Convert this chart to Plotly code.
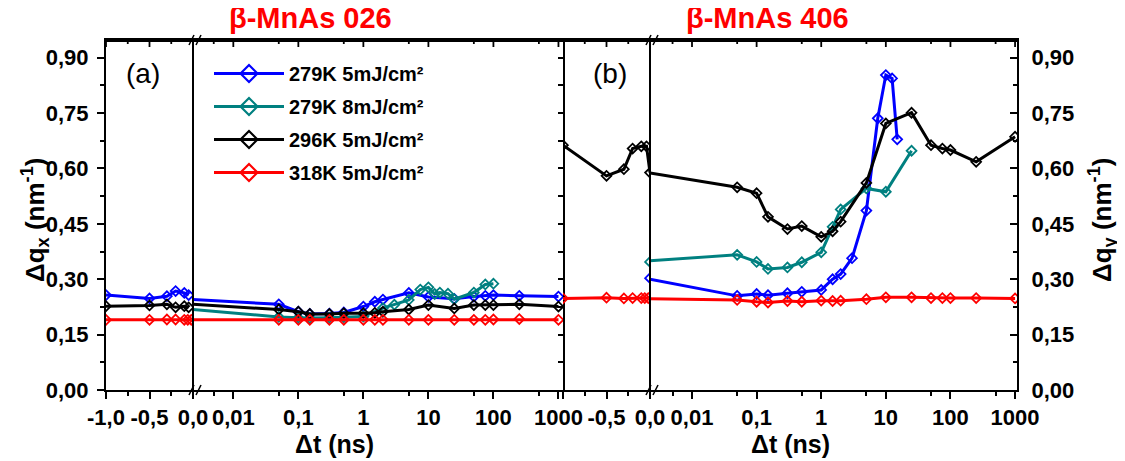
import plotly.graph_objects as go

# ---------------- data ----------------
series_names = ["279K 5mJ/cm²", "279K 8mJ/cm²", "296K 5mJ/cm²", "318K 5mJ/cm²"]
series_colors = ["#0000FF", "#008080", "#000000", "#FF0000"]

# panel (a)  beta-MnAs 026, linear negative-delay segment
a_t_neg = [-1.0, -0.5, -0.3, -0.2, -0.1, -0.05]
a_t_neg_red = [-1.0, -0.5, -0.3, -0.2, -0.1, -0.06, -0.02]
a_blue_neg = [0.257, 0.248, 0.254, 0.268, 0.263, 0.257]
a_black_neg = [0.227, 0.229, 0.232, 0.224, 0.227, 0.224]
a_red_neg = [0.190, 0.190, 0.191, 0.191, 0.190, 0.190, 0.190]

# panel (a) value at the axis break (line start of log segment)
a_break = {"blue": 0.245, "teal": 0.218, "black": 0.232, "red": 0.190}

# panel (a) log positive-delay segment
a_t_pos = [0.05, 0.1, 0.15, 0.3, 0.5, 1, 1.5, 2, 5, 10, 25, 50, 75, 100, 250, 1000]
a_blue_pos = [0.232, 0.212, 0.206, 0.207, 0.210, 0.226, 0.239, 0.245, 0.263, 0.252, 0.247, 0.253, 0.255, 0.257, 0.255, 0.253]
a_black_pos = [0.218, 0.212, 0.206, 0.206, 0.208, 0.208, 0.209, 0.212, 0.218, 0.230, 0.221, 0.230, 0.230, 0.230, 0.232, 0.226]
a_red_pos = [0.190, 0.190, 0.190, 0.190, 0.190, 0.190, 0.190, 0.190, 0.190, 0.190, 0.190, 0.190, 0.190, 0.191, 0.192, 0.190]
a_t_teal = [0.05, 0.1, 0.15, 0.3, 0.5, 1, 2, 3, 5, 7.5, 10, 12.5, 15, 20, 25, 50, 75, 100]
a_teal_pos = [0.198, 0.196, 0.195, 0.196, 0.197, 0.199, 0.222, 0.231, 0.244, 0.272, 0.278, 0.260, 0.264, 0.261, 0.246, 0.264, 0.286, 0.288]

# panel (b)  beta-MnAs 406, linear negative-delay segment
b_t_neg_black = [-1.0, -0.5, -0.3, -0.2, -0.1, -0.04, 0.0]
b_black_neg = [0.663, 0.580, 0.598, 0.654, 0.660, 0.660, 0.589]
b_t_neg_red = [-1.0, -0.5, -0.3, -0.2, -0.1, -0.06, -0.02]
b_red_neg = [0.248, 0.250, 0.248, 0.249, 0.249, 0.249, 0.249]
b_t_zero = [0.0]
b_blue_zero = [0.303]
b_teal_zero = [0.347]

b_break = {"blue": 0.300, "teal": 0.350, "black": 0.588, "red": 0.247}

# panel (b) log positive-delay segment
b_t_pos = [0.05, 0.1, 0.15, 0.3, 0.5, 1, 1.5, 2, 5, 10, 25, 50, 75, 100, 250, 1000]
b_black_pos = [0.549, 0.533, 0.469, 0.436, 0.444, 0.415, 0.430, 0.456, 0.561, 0.722, 0.751, 0.663, 0.654, 0.650, 0.618, 0.686]
b_red_pos = [0.244, 0.239, 0.237, 0.241, 0.239, 0.242, 0.241, 0.242, 0.246, 0.251, 0.251, 0.249, 0.249, 0.249, 0.249, 0.248]
b_t_teal = [0.05, 0.1, 0.15, 0.3, 0.5, 1, 1.5, 2, 5, 10, 25]
b_teal_pos = [0.366, 0.347, 0.328, 0.332, 0.346, 0.373, 0.442, 0.489, 0.546, 0.537, 0.648]
b_t_blue = [0.05, 0.1, 0.15, 0.3, 0.5, 1, 1.5, 2, 3, 5, 7.5, 10, 12.5, 15]
b_blue_pos = [0.255, 0.260, 0.257, 0.262, 0.266, 0.271, 0.300, 0.314, 0.357, 0.486, 0.736, 0.853, 0.844, 0.679]

# axis ticks
y_ticks = [0.0, 0.15, 0.30, 0.45, 0.60, 0.75, 0.90]
lin_ticks = [-1.0, -0.5, 0.0]
lin_ticktext_a = ["-1,0", "-0,5", "0,0"]
lin_ticktext_b = ["", "-0,5", "0,0"]
lin_minor = [-0.75, -0.25]
log_ticks = [0.01, 0.1, 1, 10, 100, 1000]
log_ticktext = ["0,01", "0,1", "1", "10", "100", "1000"]
log_minor = [0.005, 0.05, 0.5, 5, 50, 500]

# ---------------- geometry ----------------
# the page body adds an 8 px offset, so the figure is 8 px smaller
FONT = "Liberation Sans"
OFF = 8
W, H = 1125 - OFF, 461 - OFF
ML, MR, MT, MB = 106 - OFF, 108, 40 - OFF, 71
PW = W - ML - MR
PH = H - MT - MB
def fx(px):  # reference-image px -> paper
    return (px - OFF - ML) / PW
def fy(py):
    return (H - MB - (py - OFF)) / PH

d_a_lin = [0, fx(193)]
d_a_log = [fx(193), fx(563)]
d_b_lin = [fx(563), fx(650)]
d_b_log = [fx(650), 1]
r_a_log = [-2.62, 3.07]
r_b_log = [-2.65, 3.03]
y_range = [0, 0.948]

MS = 7.5
LW = 3

fig = go.Figure()

def add(x, y, color, xa, first_hidden=False):
    op = [1.0] * len(x)
    if first_hidden:
        op[0] = 0.0
    fig.add_trace(go.Scatter(
        x=x, y=y, xaxis=xa, yaxis="y", mode="lines+markers",
        line=dict(color=color, width=LW),
        marker=dict(symbol="diamond-open", size=MS, color=color, opacity=op,
                    line=dict(color=color, width=1.8)),
        showlegend=False, hoverinfo="skip"))

BL, TE, BK, RD = series_colors
xa_start = 10 ** r_a_log[0]
xb_start = 10 ** r_b_log[0]

# empty traces so that the secondary frame axes get drawn
for xa, ya in [("x4", "y2"), ("x2", "y3")]:
    fig.add_trace(go.Scatter(x=[None], y=[None], xaxis=xa, yaxis=ya, mode="markers",
                             showlegend=False, hoverinfo="skip"))

# panel (a)
add(a_t_neg, a_blue_neg, BL, "x")
add([xa_start] + a_t_pos, [a_break["blue"]] + a_blue_pos, BL, "x2", True)
add([xa_start] + a_t_teal, [a_break["teal"]] + a_teal_pos, TE, "x2", True)
add(a_t_neg, a_black_neg, BK, "x")
add([xa_start] + a_t_pos, [a_break["black"]] + a_black_pos, BK, "x2", True)
add(a_t_neg_red, a_red_neg, RD, "x")
add([xa_start] + a_t_pos, [a_break["red"]] + a_red_pos, RD, "x2", True)

# panel (b)
add(b_t_zero, b_blue_zero, BL, "x3")
add([xb_start] + b_t_blue, [b_break["blue"]] + b_blue_pos, BL, "x4", True)
add(b_t_zero, b_teal_zero, TE, "x3")
add([xb_start] + b_t_teal, [b_break["teal"]] + b_teal_pos, TE, "x4", True)
add(b_t_neg_black, b_black_neg, BK, "x3")
add([xb_start] + b_t_pos, [b_break["black"]] + b_black_pos, BK, "x4", True)
add(b_t_neg_red, b_red_neg, RD, "x3")
add([xb_start] + b_t_pos, [b_break["red"]] + b_red_pos, RD, "x4", True)

# legend entries
for name, c in zip(series_names, series_colors):
    fig.add_trace(go.Scatter(
        x=[None], y=[None], xaxis="x", yaxis="y", mode="lines+markers", name=name,
        legendgroup=name,
        line=dict(color=c, width=LW),
        marker=dict(symbol="diamond-open", size=13, color=c, line=dict(color=c, width=2.2))))

tickfont = dict(family=FONT, size=22, color="black", weight="bold")
common = dict(showline=True, linecolor="black", linewidth=2, showgrid=False, zeroline=False,
              tickfont=tickfont, tickcolor="black", tickwidth=1.8)

def xaxis_def(domain, rng, vals, text, minor_vals, log=False):
    d = dict(common, domain=domain, range=rng, tickmode="array", tickvals=vals,
             ticktext=text, ticklabelstandoff=0, side="bottom", ticks="outside",
             anchor="y", ticklen=7, mirror=True,
             minor=dict(tickvals=minor_vals, ticks="outside", ticklen=4,
                        tickcolor="black", tickwidth=1.5))
    if log:
        d["type"] = "log"
    return d

ycommon = dict(common, range=y_range, tickmode="array", tickvals=y_ticks, tickformat=".2f")

fig.update_layout(
    width=W, height=H,
    margin=dict(l=ML, r=MR, t=MT, b=MB, pad=0),
    paper_bgcolor="white", plot_bgcolor="rgba(0,0,0,0)",
    separators=",.",
    font=dict(family=FONT, color="black"),
    xaxis=xaxis_def(d_a_lin, [-1.0, 0.0], lin_ticks, lin_ticktext_a, lin_minor),
    xaxis2=xaxis_def(d_a_log, r_a_log, log_ticks, log_ticktext, log_minor, log=True),
    xaxis3=xaxis_def(d_b_lin, [-1.0, 0.0], lin_ticks, lin_ticktext_b, lin_minor),
    xaxis4=xaxis_def(d_b_log, r_b_log, log_ticks, log_ticktext, log_minor, log=True),
    yaxis=dict(ycommon, domain=[0, 1], anchor="x", side="left", ticks="outside", ticklen=7,
               ticklabelstandoff=4,
               minor=dict(dtick=0.075, ticks="outside", ticklen=4, tickcolor="black", tickwidth=1.5)),
    yaxis2=dict(ycommon, overlaying="y", anchor="x4", side="right", ticks="inside", ticklen=7,
                ticklabelstandoff=8,
                minor=dict(dtick=0.075, ticks="inside", ticklen=4, tickcolor="black", tickwidth=1.5)),
    yaxis3=dict(ycommon, overlaying="y", anchor="x2", side="right", ticks="inside", ticklen=5,
                tickvals=None, tickmode="linear", tick0=0, dtick=0.075, showticklabels=False),
    legend=dict(x=fx(209), y=fy(54), xanchor="left", yanchor="top", xref="paper", yref="paper",
                bgcolor="rgba(0,0,0,0)", font=dict(family=FONT, size=20, color="black", weight="bold"),
                itemwidth=70, tracegroupgap=4),
    showlegend=True,
)

shapes = []
# top frame bar (thin filled strip along the top edge of the plot)
shapes.append(dict(type="rect", xref="paper", x0=0, x1=1, yref="paper", ysizemode="pixel",
                   yanchor=1, y0=-2, y1=0.5, fillcolor="black", line=dict(width=0),
                   layer="above"))
# inward top ticks, placed through each x axis' own scale
for xr, major, minor in [("x", lin_ticks, lin_minor), ("x2", log_ticks, log_minor),
                         ("x3", lin_ticks, lin_minor), ("x4", log_ticks, log_minor)]:
    for vals, ln in [(major, 7), (minor, 4)]:
        for v in vals:
            shapes.append(dict(type="line", xref=xr, x0=v, x1=v, yref="y domain",
                               ysizemode="pixel", yanchor=1, y0=0, y1=-ln,
                               line=dict(color="black", width=1.8)))
# axis-break lines and "//" marks
for xr in ["x2 domain", "x4 domain"]:
    shapes.append(dict(type="line", xref=xr, x0=0, x1=0, yref="y domain", y0=0, y1=1,
                       line=dict(color="black", width=2)))
    for yv in [0, 1]:
        for off in [-4, 3]:
            shapes.append(dict(type="line", xref=xr, xsizemode="pixel", xanchor=0,
                               x0=off, x1=off + 5, yref="y domain", ysizemode="pixel",
                               yanchor=yv, y0=-5, y1=5, line=dict(color="black", width=1.5)))
fig.update_layout(shapes=shapes)

bold = dict(family=FONT, color="black", weight="bold")
ann = [
    dict(text="β-MnAs 026", x=fx(310), y=fy(0), yanchor="top",
         font=dict(family=FONT, size=29, color="#FF0000", weight="bold")),
    dict(text="β-MnAs 406", x=fx(767), y=fy(0), yanchor="top",
         font=dict(family=FONT, size=29, color="#FF0000", weight="bold")),
    dict(text="(a)", x=fx(143), y=fy(73), font=dict(family=FONT, size=28, color="black")),
    dict(text="(b)", x=fx(610), y=fy(73), font=dict(family=FONT, size=28, color="black")),
    dict(text="Δt (ns)", x=fx(334.5), y=fy(444), font=dict(bold, size=25)),
    dict(text="Δt (ns)", x=fx(790), y=fy(444), font=dict(bold, size=25)),
    dict(text="Δq<sub>x</sub> (nm<sup>-1</sup>)", x=fx(35), y=fy(220), textangle=-90, font=dict(bold, size=26)),
    dict(text="Δq<sub>y</sub> (nm<sup>-1</sup>)", x=fx(1102), y=fy(220), textangle=-90, font=dict(bold, size=26)),
]
for a in ann:
    a.setdefault("yanchor", "middle")
    a.update(xref="paper", yref="paper", showarrow=False, xanchor="center")
fig.update_layout(annotations=ann)

fig.write_html("out.html")
